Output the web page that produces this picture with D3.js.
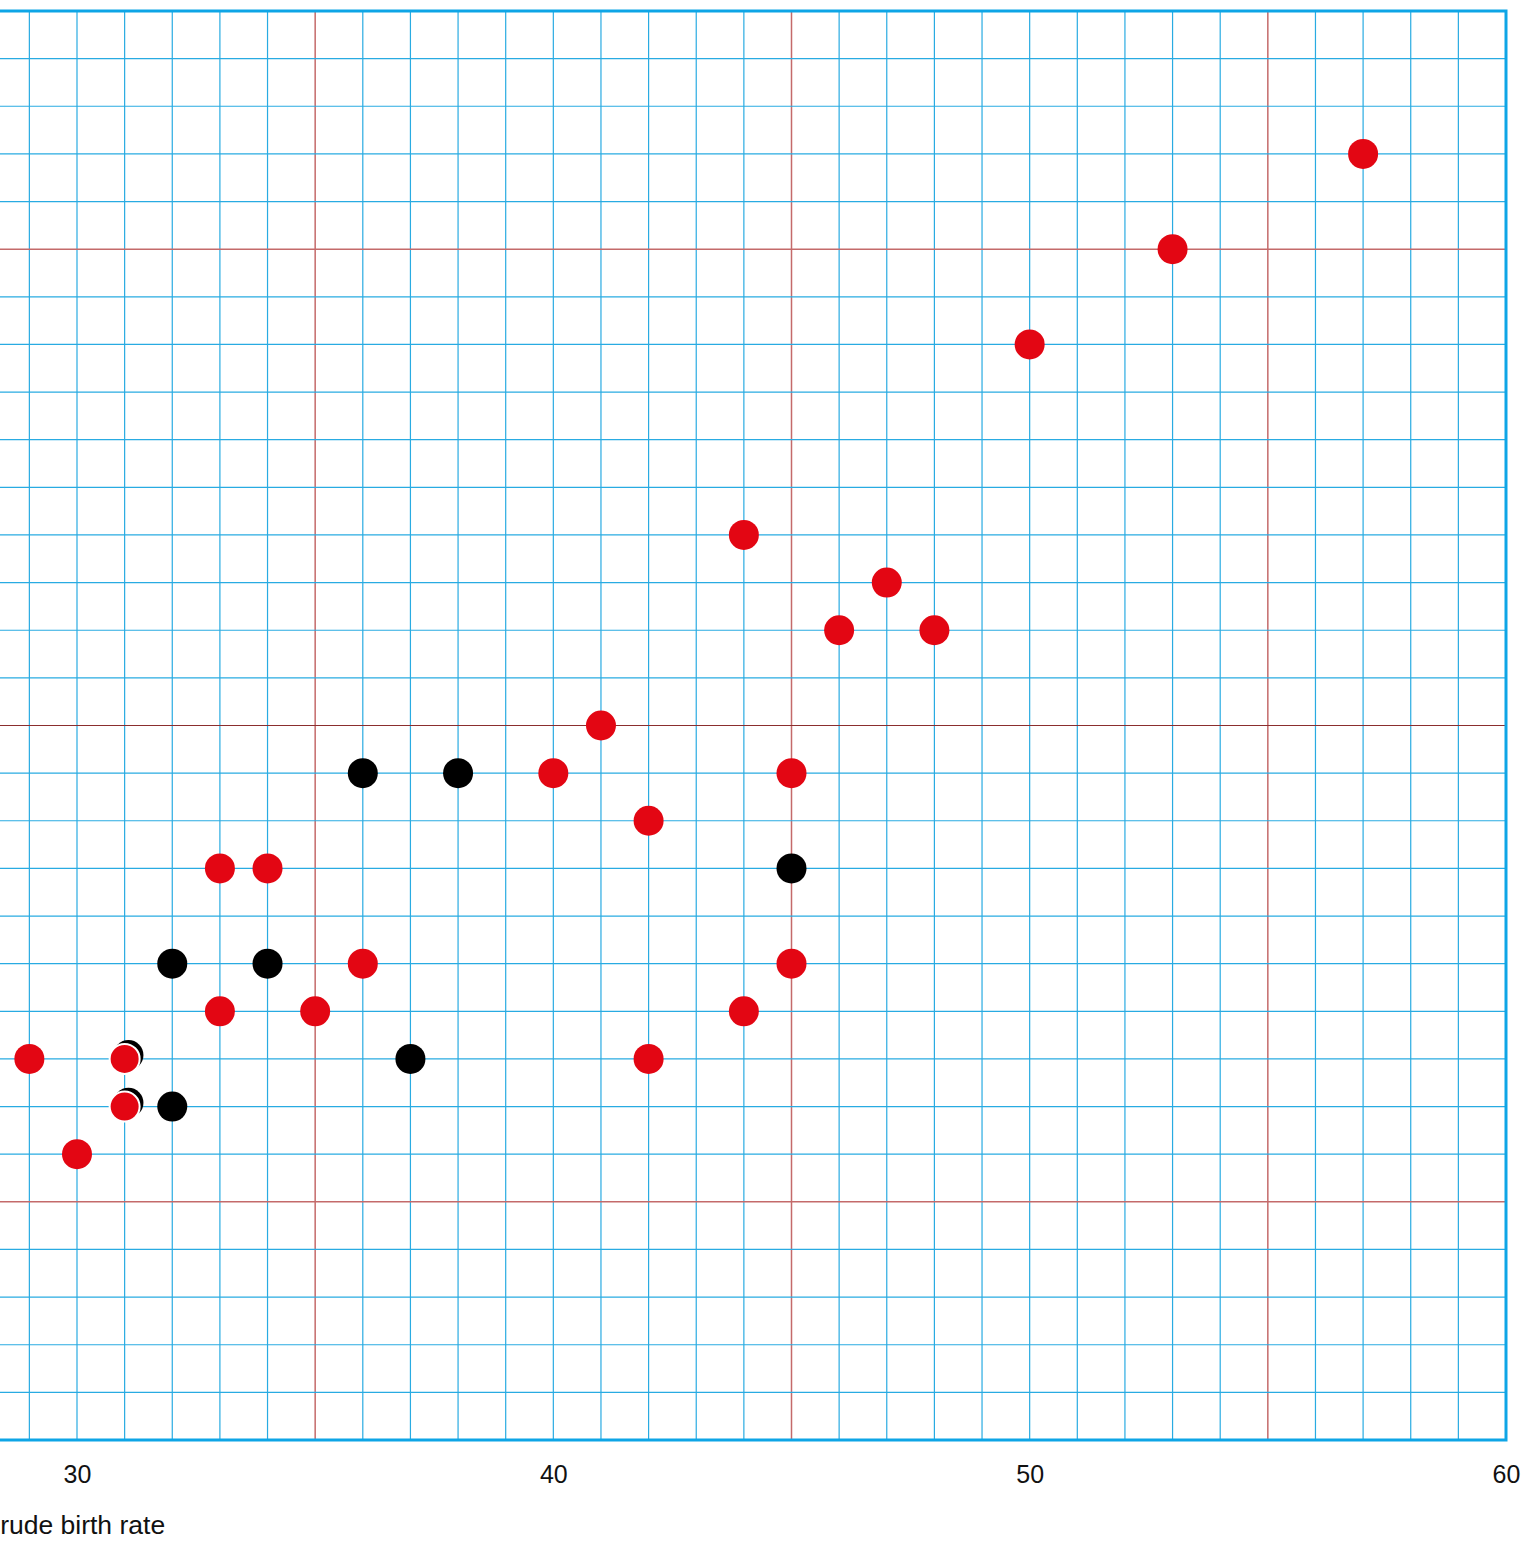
<!DOCTYPE html>
<html>
<head>
<meta charset="utf-8">
<script src="https://cdn.jsdelivr.net/npm/d3@7"></script>
<style>
  body { margin: 0; background: #fff; }
  svg { display: block; }
</style>
</head>
<body>
<div id="chart"></div>
<script>
// data: [birth rate, death rate]
const redPoints = [
  [29, 8], [31, 8], [31, 7], [30, 6],
  [33, 12], [34, 12], [33, 9], [35, 9], [36, 10],
  [40, 14], [41, 15], [42, 13], [45, 14], [42, 8],
  [44, 9], [45, 10], [44, 19], [47, 18], [46, 17],
  [48, 17], [50, 23], [53, 25], [57, 27]
];
const blackPoints = [
  [31.08, 8.08], [31.08, 7.08],
  [36, 14], [38, 14], [45, 12], [32, 10], [34, 10],
  [37, 8], [32, 7]
];
const xTickLabels = [30, 40, 50, 60];
const xRedLines = [35, 45, 55];
const yRedLines = [5, 25];
const yDarkLines = [15];

const width = 1525;
const height = 1541;
const radius = 15;
const gridColor = "#29abe2";
const redLine = "#c46a6a";
const darkLine = "#8b2e2e";
const redFill = "#e30613";

const x = d3.scaleLinear().domain([30, 60]).range([77, 1506]);
const y = d3.scaleLinear().domain([0, 30]).range([1440, 11]);

const svg = d3.select("#chart").append("svg")
  .attr("width", width)
  .attr("height", height);

const grid = svg.append("g");

// vertical grid lines
grid.selectAll("line.vx")
  .data(d3.range(25, 60))
  .enter()
  .append("line")
  .attr("class", "vx")
  .attr("x1", d => x(d)).attr("x2", d => x(d))
  .attr("y1", y(30)).attr("y2", y(0))
  .attr("stroke", d => xRedLines.includes(d) ? redLine : gridColor)
  .attr("stroke-width", d => xRedLines.includes(d) ? 1.5 : 1.2);

// horizontal grid lines
grid.selectAll("line.hy")
  .data(d3.range(1, 30))
  .enter()
  .append("line")
  .attr("class", "hy")
  .attr("x1", 0).attr("x2", x(60))
  .attr("y1", d => y(d)).attr("y2", d => y(d))
  .attr("stroke", d => yDarkLines.includes(d) ? darkLine : (yRedLines.includes(d) ? redLine : gridColor))
  .attr("stroke-width", d => yRedLines.includes(d) ? 1.5 : 1.2);

// frame (top, right, bottom)
svg.append("path")
  .attr("d", `M0,${y(30)}H${x(60)}V${y(0)}H0`)
  .attr("fill", "none")
  .attr("stroke", "#0ea5e6")
  .attr("stroke-width", 3);

// x axis labels
const xAxis = d3.axisBottom(x)
  .tickValues(xTickLabels)
  .tickSize(0)
  .tickPadding(25);

svg.append("g")
  .attr("transform", `translate(0,${y(0)})`)
  .call(xAxis)
  .call(g => g.select(".domain").remove())
  .selectAll("text")
  .attr("fill", "#111")
  .style("font-family", "Liberation Sans, Arial, sans-serif")
  .style("font-size", "25px");

svg.append("text")
  .attr("x", -19)
  .attr("y", 1534)
  .attr("fill", "#111")
  .style("font-family", "Liberation Sans, Arial, sans-serif")
  .style("font-size", "26.5px")
  .text("Crude birth rate");

// points
const overlaps = d => blackPoints.some(b => Math.abs(b[0] - d[0]) < 0.5 && Math.abs(b[1] - d[1]) < 0.5);

svg.append("g").selectAll("circle")
  .data(blackPoints)
  .enter()
  .append("circle")
  .attr("cx", d => x(d[0]))
  .attr("cy", d => y(d[1]))
  .attr("r", radius)
  .attr("fill", "#000")
  .attr("stroke", "#fff")
  .attr("stroke-width", d => redPoints.some(r => Math.abs(r[0] - d[0]) < 0.5 && Math.abs(r[1] - d[1]) < 0.5) ? 0 : 0);

svg.append("g").selectAll("circle")
  .data(redPoints)
  .enter()
  .append("circle")
  .attr("cx", d => x(d[0]))
  .attr("cy", d => y(d[1]))
  .attr("r", radius)
  .attr("fill", redFill)
  .attr("stroke", d => overlaps(d) ? "#fff" : "none")
  .attr("stroke-width", 2);
</script>
</body>
</html>
